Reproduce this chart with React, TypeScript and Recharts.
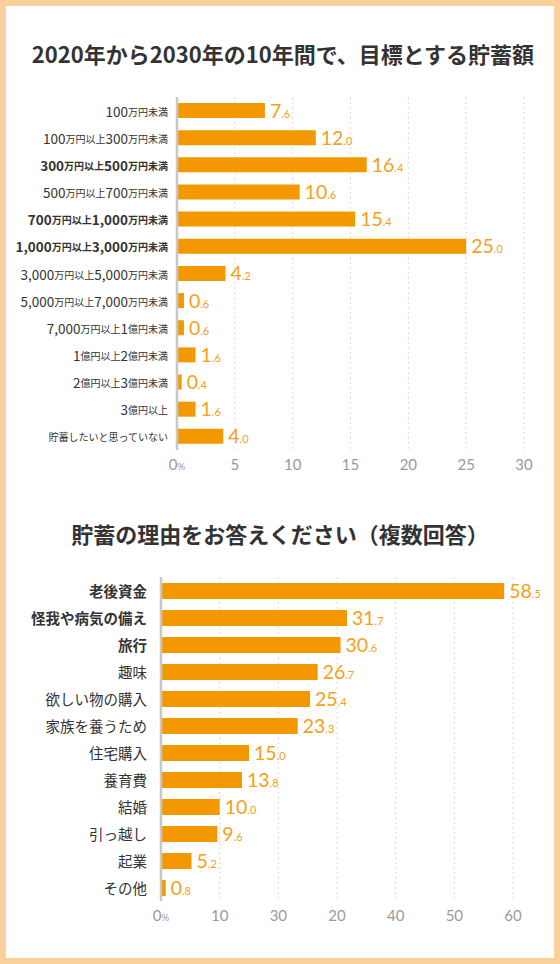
import React from 'react';
import { BarChart, Bar, XAxis, YAxis, CartesianGrid, LabelList } from 'recharts';

// ---------------------------------------------------------------------------
// Data
// ---------------------------------------------------------------------------

const targetCategories = [
  '100万円未満',
  '100万円以上300万円未満',
  '300万円以上500万円未満',
  '500万円以上700万円未満',
  '700万円以上1,000万円未満',
  '1,000万円以上3,000万円未満',
  '3,000万円以上5,000万円未満',
  '5,000万円以上7,000万円未満',
  '7,000万円以上1億円未満',
  '1億円以上2億円未満',
  '2億円以上3億円未満',
  '3億円以上',
  '貯蓄したいと思っていない',
];
const targetValues = [7.6, 12.0, 16.4, 10.6, 15.4, 25.0, 4.2, 0.6, 0.6, 1.6, 0.4, 1.6, 4.0];
const targetBold = [2, 4, 5];
const targetTicks = [0, 5, 10, 15, 20, 25, 30];
const targetTickLabels = ['0%', '5', '10', '15', '20', '25', '30'];

const reasonCategories = [
  '老後資金',
  '怪我や病気の備え',
  '旅行',
  '趣味',
  '欲しい物の購入',
  '家族を養うため',
  '住宅購入',
  '養育費',
  '結婚',
  '引っ越し',
  '起業',
  'その他',
];
const reasonValues = [58.5, 31.7, 30.6, 26.7, 25.4, 23.3, 15.0, 13.8, 10.0, 9.6, 5.2, 0.8];
const reasonBold = [0, 1, 2];
const reasonTicks = [0, 10, 20, 30, 40, 50, 60];
// the original chart prints "30" before "20"
const reasonTickLabels = ['0%', '10', '30', '20', '40', '50', '60'];

const targetData = targetCategories.map((name, i) => ({ name, value: targetValues[i] }));
const reasonData = reasonCategories.map((name, i) => ({ name, value: reasonValues[i] }));

// ---------------------------------------------------------------------------
// Styles
// ---------------------------------------------------------------------------

const BAR = '#F39800';
const LABEL = '#F5A01A';
const TEXT = '#333333';
const MUTED = '#9a9a9a';
const JP = '"Noto Sans CJK JP", "Noto Sans", sans-serif';
const NUM = 'Lato, "Noto Sans", sans-serif';

// ---------------------------------------------------------------------------
// Ticks & labels
// ---------------------------------------------------------------------------

function TargetTick({ x, y, payload }: any) {
  const label: string = payload.value;
  const bold = targetBold.includes(targetCategories.indexOf(label));
  const parts = label.split(/([0-9,]+)/).filter(Boolean);
  return (
    <text
      x={x - 9}
      y={y}
      textAnchor="end"
      dominantBaseline="central"
      fill={TEXT}
      fontFamily={JP}
      fontWeight={bold ? 700 : 400}
    >
      {parts.map((p, i) => (
        <tspan key={i} fontSize={/^[0-9,]+$/.test(p) ? 13.5 : 10}>
          {p}
        </tspan>
      ))}
    </text>
  );
}

function ReasonTick({ x, y, payload }: any) {
  const label: string = payload.value;
  const bold = reasonBold.includes(reasonCategories.indexOf(label));
  return (
    <text
      x={x - 14}
      y={y}
      textAnchor="end"
      dominantBaseline="central"
      fill={TEXT}
      fontFamily={JP}
      fontSize={14.5}
      fontWeight={bold ? 700 : 400}
    >
      {label}
    </text>
  );
}

function makeXTick(ticks: number[], labels: string[]) {
  return function XTick({ x, y, payload }: any) {
    const label = labels[ticks.indexOf(payload.value)] ?? String(payload.value);
    const pct = label.endsWith('%');
    return (
      <text x={x} y={y + 20} textAnchor="middle" fill={MUTED} fontFamily={NUM} fontSize={15}>
        {pct ? label.slice(0, -1) : label}
        {pct && <tspan fontSize={10}>%</tspan>}
      </text>
    );
  };
}

function ValueLabel(props: any) {
  const { x, y, width, height, value } = props;
  const [whole, dec] = Number(value).toFixed(1).split('.');
  return (
    <text x={x + width + 5} y={y + height / 2 + 7} fill={LABEL} fontFamily={NUM}>
      <tspan fontSize={19.5}>{whole}</tspan>
      <tspan fontSize={11}>.{dec}</tspan>
    </text>
  );
}

const titleStyle: React.CSSProperties = {
  position: 'absolute',
  left: 0,
  width: 560,
  textAlign: 'center',
  fontFamily: JP,
  fontWeight: 700,
  fontSize: 22,
  lineHeight: '22px',
  color: TEXT,
  whiteSpace: 'nowrap',
};

// ---------------------------------------------------------------------------
// App
// ---------------------------------------------------------------------------

export default function App() {
  return (
    <div style={{ position: 'relative', width: 560, height: 964, background: '#fff' }}>
      <style>{'body{margin:0}'}</style>
      <div
        style={{
          position: 'absolute',
          inset: 0,
          boxSizing: 'border-box',
          border: '6px solid #FAD09C',
          pointerEvents: 'none',
          zIndex: 2,
        }}
      />

      <div style={{ ...titleStyle, top: 42, left: 3 }}>2020年から2030年の10年間で、目標とする貯蓄額</div>
      <div style={{ position: 'absolute', top: 0, left: 0 }}>
        <BarChart
          width={560}
          height={490}
          data={targetData}
          layout="vertical"
          margin={{ top: 97, right: 36, bottom: 10, left: 0 }}
          barSize={15}
        >
          <CartesianGrid horizontal={false} stroke="#dadada" strokeDasharray="2 3" />
          <XAxis
            type="number"
            domain={[0, 30]}
            ticks={targetTicks}
            height={30}
            axisLine={false}
            tickLine={false}
            tickSize={0}
            tickMargin={0}
            tick={makeXTick(targetTicks, targetTickLabels)}
          />
          <YAxis
            type="category"
            dataKey="name"
            width={177}
            axisLine={{ stroke: '#c8c8c8', strokeWidth: 2.5 }}
            tickLine={false}
            tickSize={0}
            tickMargin={0}
            interval={0}
            tick={<TargetTick />}
          />
          <Bar dataKey="value" fill={BAR} isAnimationActive={false}>
            <LabelList dataKey="value" content={(p: any) => <ValueLabel {...p} />} />
          </Bar>
        </BarChart>
      </div>

      <div style={{ ...titleStyle, top: 522 }}>貯蓄の理由をお答えください（複数回答）</div>
      <div style={{ position: 'absolute', top: 500, left: 0 }}>
        <BarChart
          width={560}
          height={440}
          data={reasonData}
          layout="vertical"
          margin={{ top: 77, right: 47, bottom: 9, left: 0 }}
          barSize={16}
        >
          <CartesianGrid horizontal={false} stroke="#dadada" strokeDasharray="2 3" />
          <XAxis
            type="number"
            domain={[0, 60]}
            ticks={reasonTicks}
            height={30}
            axisLine={false}
            tickLine={false}
            tickSize={0}
            tickMargin={0}
            tick={makeXTick(reasonTicks, reasonTickLabels)}
          />
          <YAxis
            type="category"
            dataKey="name"
            width={161}
            axisLine={{ stroke: '#c8c8c8', strokeWidth: 2.5 }}
            tickLine={false}
            tickSize={0}
            tickMargin={0}
            interval={0}
            tick={<ReasonTick />}
          />
          <Bar dataKey="value" fill={BAR} isAnimationActive={false}>
            <LabelList dataKey="value" content={(p: any) => <ValueLabel {...p} />} />
          </Bar>
        </BarChart>
      </div>
    </div>
  );
}
